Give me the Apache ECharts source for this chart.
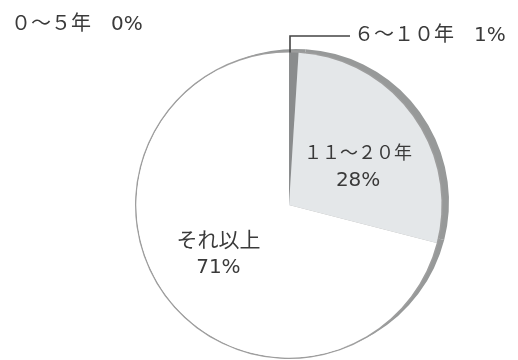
<!DOCTYPE html>
<html>
<head>
<meta charset="utf-8">
<script src="https://cdn.jsdelivr.net/npm/echarts@6/dist/echarts.min.js"></script>
<style>
  html, body { margin: 0; padding: 0; background: #ffffff; }
  #chart { width: 518px; height: 360px; }
</style>
</head>
<body>
<div id="chart"></div>
<script>
// 勤続年数の構成比
const categories = ['０～５年', '６～１０年', '１１～２０年', 'それ以上'];
const shares = [0, 1, 28, 71];

const sliceColors = ['#8a8c8d', '#8a8c8d', '#e4e7e9', '#ffffff'];
const textColor = '#3a3a3a';
const fontFamily = '"DejaVu Sans", "Noto Sans CJK JP", sans-serif';

const CX = 289, CY = 205, R = 153;

function buildData(colorFn) {
  return categories.map((name, i) => ({
    name: name,
    value: shares[i],
    itemStyle: { color: colorFn(i) }
  }));
}

const chart = echarts.init(document.getElementById('chart'), null, { renderer: 'canvas' });

const mainData = buildData(i => sliceColors[i]).map((d, i) => {
  if (i === 1) {
    d.label = { position: 'outside' };
    d.labelLine = { show: true, lineStyle: { color: '#444444', width: 1.6 } };
  }
  return d;
});

const txt = (size, lh) => ({ fontSize: size, lineHeight: lh, color: textColor, fontFamily: fontFamily });

chart.setOption({
  backgroundColor: '#ffffff',
  animation: false,
  series: [
    // thickness along the upper-right rim
    {
      type: 'pie',
      silent: true,
      center: [CX + 7, CY - 3],
      radius: R,
      startAngle: 90,
      clockwise: true,
      label: { show: false },
      labelLine: { show: false },
      data: buildData(() => '#979999'),
      z: 1
    },
    // thin outline round the disc
    {
      type: 'pie',
      silent: true,
      center: [CX, CY],
      radius: [R - 0.5, R + 1],
      startAngle: 90,
      clockwise: true,
      label: { show: false },
      labelLine: { show: false },
      data: buildData(() => '#9e9e9e'),
      z: 2
    },
    {
      type: 'pie',
      center: [CX, CY],
      radius: R - 0.5,
      startAngle: 90,
      clockwise: true,
      z: 3,
      itemStyle: { borderWidth: 0 },
      label: {
        show: true,
        position: 'inside',
        color: textColor,
        fontFamily: fontFamily,
        fontSize: 19,
        lineHeight: 26,
        align: 'center',
        formatter: p => {
          if (p.dataIndex < 2) return '{top|' + p.name + '　' + p.value + '%}';
          const nameStyle = p.dataIndex === 3 ? 'nmWide' : 'nm';
          return '{' + nameStyle + '|' + p.name + '}\n{val|' + p.value + '%}';
        },
        rich: {
          top: txt(20, 24),
          nm: txt(18, 26),
          nmWide: txt(21, 27),
          val: txt(20, 27)
        }
      },
      labelLine: { show: false },
      labelLayout: function (params) {
        switch (params.dataIndex) {
          case 0:
            return { x: 11, y: 25, align: 'left', verticalAlign: 'middle' };
          case 1:
            return {
              x: 354, y: 36, align: 'left', verticalAlign: 'middle',
              labelLinePoints: [[CX + 1, CY - R + 16], [CX + 1, 36], [350, 36]]
            };
          case 2:
            return { dx: 5, dy: 9 };
          default:
            return { dx: -8, dy: 1 };
        }
      },
      data: mainData
    }
  ]
});
</script>
</body>
</html>
